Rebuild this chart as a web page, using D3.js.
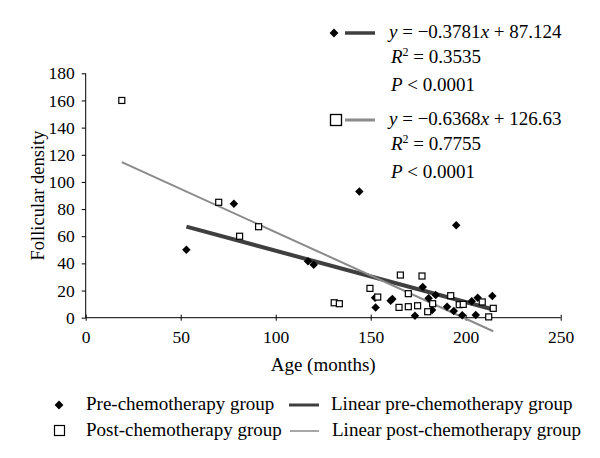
<!DOCTYPE html>
<html><head><meta charset="utf-8">
<script src="https://cdn.jsdelivr.net/npm/d3@7"></script>
<style>
body{margin:0;background:#fff;}
svg{display:block;}
svg text{font-family:'Liberation Serif','Times New Roman',Times,serif !important;}
</style></head>
<body><svg id="c" width="600" height="458"></svg>
<script>
// Data (months, follicular density)
const preAge = [53, 78, 117, 120, 144, 195, 152.6, 152.3, 160.5, 161.4, 173.3, 177.4, 180.5, 182.3, 184.2, 190.2, 193.7, 198.2, 203.2, 205.3, 206.3, 214];
const preDensity = [50, 84, 41.5, 39, 93, 68, 7.6, 14.7, 12.5, 13.8, 1.5, 22.6, 14.3, 5.7, 16.7, 8.1, 4.9, 1.8, 12.1, 2.0, 14.7, 16];
const postAge = [19, 70, 81, 91, 130.8, 133.5, 149.6, 153.7, 165.6, 177, 169.8, 164.9, 169.8, 174.7, 182.6, 180, 192.1, 196.6, 198.7, 208.7, 212.1, 214.5];
const postDensity = [160, 85, 60, 67, 11, 10.3, 21.6, 15.2, 31.4, 30.7, 17.7, 7.6, 8.1, 8.8, 10.3, 4.4, 16.2, 9.6, 9.8, 11.6, 0.6, 6.9];
const preFit = {slope: -0.3781, intercept: 87.124, r2: "0.3535", p: "0.0001"};
const postFit = {slope: -0.6368, intercept: 126.63, r2: "0.7755", p: "0.0001"};
const xTicks = [0, 50, 100, 150, 200, 250];
const yTicks = [0, 20, 40, 60, 80, 100, 120, 140, 160, 180];
const legendLabels = ["Pre-chemotherapy group", "Linear pre-chemotherapy group", "Post-chemotherapy group", "Linear post-chemotherapy group"];

const FONT = "Liberation Serif";
const svg = d3.select("#c").attr("font-family", FONT);
const x = d3.scaleLinear().domain([0, 250]).range([85.7, 560.7]);
const y = d3.scaleLinear().domain([0, 180]).range([317.7, 73.3]);

const preColor = "#3f3f3f", postColor = "#8a8a8a";

// axes
const gx = svg.append("g").attr("transform", `translate(0,${y(0)})`)
  .call(d3.axisBottom(x).tickValues(xTicks).tickSize(3).tickPadding(10));
gx.selectAll(".tick line").attr("y1", -3);
const gy = svg.append("g").attr("transform", `translate(${x(0)},0)`)
  .call(d3.axisLeft(y).tickValues(yTicks).tickSize(4).tickPadding(7));
[gx, gy].forEach(g => {
  g.attr("font-family", FONT).attr("font-size", 17.5);
  g.selectAll("text").attr("fill", "#000");
  g.selectAll(".tick line").attr("stroke", "#000");
  g.select(".domain").remove();
});
svg.append("line").attr("x1", x(0)).attr("x2", x(250)).attr("y1", y(0)).attr("y2", y(0)).attr("stroke", "#000");
svg.append("line").attr("x1", x(0)).attr("x2", x(0)).attr("y1", y(0)).attr("y2", y(180)).attr("stroke", "#000");

// axis titles
svg.append("text").attr("x", x(125)).attr("y", 371).attr("text-anchor", "middle")
  .attr("font-size", 19).text("Age (months)");
svg.append("text").attr("transform", `translate(44,${y(90)}) rotate(-90)`).attr("text-anchor", "middle")
  .attr("font-size", 18.5).text("Follicular density");

// fit lines
function fitLine(fit, xs, color, w) {
  const x0 = d3.min(xs), x1 = d3.max(xs);
  svg.append("line")
    .attr("x1", x(x0)).attr("y1", y(fit.intercept + fit.slope * x0))
    .attr("x2", x(x1)).attr("y2", y(fit.intercept + fit.slope * x1))
    .attr("stroke", color).attr("stroke-width", w);
}
fitLine(preFit, preAge, preColor, 4);
fitLine(postFit, postAge, postColor, 2);

// points
const diamond = d3.symbol().type(d3.symbolDiamond2).size(46);
svg.append("g").selectAll("path").data(preAge).join("path")
  .attr("transform", (d, i) => `translate(${x(d)},${y(preDensity[i])})`)
  .attr("d", diamond).attr("fill", "#000");
svg.append("g").selectAll("rect").data(postAge).join("rect")
  .attr("x", d => x(d) - 3).attr("y", (d, i) => y(postDensity[i]) - 3)
  .attr("width", 6).attr("height", 6).attr("fill", "#fff").attr("stroke", "#000").attr("stroke-width", 1.2);

// equation legend
function eqBlock(fit, top, symbol, color, w) {
  if (symbol === "d") {
    svg.append("path").attr("d", d3.symbol().type(d3.symbolDiamond2).size(50)())
      .attr("transform", `translate(334,${top})`).attr("fill", "#000");
  } else {
    svg.append("rect").attr("x", 330.5).attr("y", top - 5.5).attr("width", 11).attr("height", 11)
      .attr("fill", "#fff").attr("stroke", "#000").attr("stroke-width", 1.3);
  }
  svg.append("line").attr("x1", 345).attr("x2", 375).attr("y1", top).attr("y2", top)
    .attr("stroke", color).attr("stroke-width", w);
  const fs = 19;
  const t1 = svg.append("text").attr("x", 389).attr("y", top + 5).attr("font-size", fs);
  t1.append("tspan").attr("font-style", "italic").text("y");
  t1.append("tspan").text(" = \u2212" + Math.abs(fit.slope).toFixed(4));
  t1.append("tspan").attr("font-style", "italic").text("x");
  t1.append("tspan").text(" + " + fit.intercept);
  const t2 = svg.append("text").attr("x", 391).attr("y", top + 30).attr("font-size", fs);
  t2.append("tspan").attr("font-style", "italic").text("R");
  t2.append("tspan").attr("font-size", 12).attr("dy", -7).text("2");
  t2.append("tspan").attr("dy", 7).text(" = " + fit.r2);
  const t3 = svg.append("text").attr("x", 391).attr("y", top + 58).attr("font-size", fs);
  t3.append("tspan").attr("font-style", "italic").text("P");
  t3.append("tspan").text(" < " + fit.p);
}
eqBlock(preFit, 33, "d", preColor, 3.5);
eqBlock(postFit, 120, "s", postColor, 3);

// bottom legend
const lg = svg.append("g");
lg.append("path").attr("d", d3.symbol().type(d3.symbolDiamond2).size(50)())
  .attr("transform", "translate(59,405)").attr("fill", "#000");
lg.append("rect").attr("x", 54.5).attr("y", 425.5).attr("width", 10).attr("height", 10)
  .attr("fill", "#fff").attr("stroke", "#000").attr("stroke-width", 1.2);
lg.append("line").attr("x1", 289).attr("x2", 319).attr("y1", 405).attr("y2", 405).attr("stroke", preColor).attr("stroke-width", 3);
lg.append("line").attr("x1", 290).attr("x2", 319).attr("y1", 431).attr("y2", 431).attr("stroke", postColor).attr("stroke-width", 1.5);
[[86, 410], [331, 410], [86, 436], [332, 436]].forEach((p, i) => {
  lg.append("text").attr("x", p[0]).attr("y", p[1]).attr("font-size", 19).text(legendLabels[i]);
});
</script></body></html>
